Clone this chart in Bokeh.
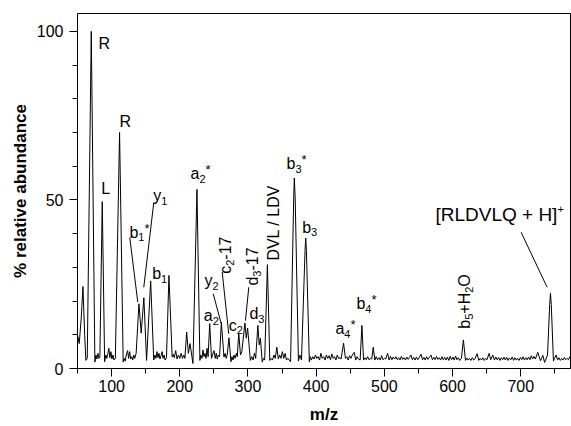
import math
from bokeh.plotting import figure
from bokeh.models import Range1d, FixedTicker, Label
from bokeh.embed import file_html
from bokeh.resources import INLINE

# ---- spectrum trace (m/z, % relative abundance) ----
mz = [
    50.0, 52.5, 55.5, 58.0, 60.5, 62.3, 64.3, 70.2, 75.5, 77.0, 78.5, 80.0, 81.5, 82.8,
    86.3, 89.8, 91.5, 93.0, 94.5, 96.0, 97.5, 99.0, 100.5, 102.0, 103.5, 105.5, 111.7,
    117.0, 118.5, 120.0, 121.5, 123.5, 125.0, 126.5, 128.0, 129.5, 131.0, 132.5, 134.0,
    136.0, 140.1, 143.4, 147.3, 151.3, 157.3, 161.8, 163.5, 165.0, 166.5, 168.0, 169.5,
    171.0, 172.5, 174.0, 175.5, 177.0, 178.5, 180.5, 184.1, 188.8, 190.5, 192.0, 194.0,
    196.0, 198.0, 200.0, 202.0, 204.0, 206.0, 207.5, 210.1, 212.6, 215.0, 219.3, 225.2,
    229.5, 231.0, 232.5, 234.0, 235.5, 237.0, 238.5, 240.0, 241.5, 243.9, 246.5, 248.0,
    250.2, 252.0, 253.5, 255.0, 256.5, 258.3, 261.0, 264.8, 266.5, 268.0, 269.5, 272.1,
    275.0, 276.5, 278.0, 279.5, 281.0, 283.0, 284.3, 286.5, 289.0, 291.0, 295.5, 297.5,
    299.5, 303.5, 305.5, 307.5, 309.5, 311.3, 314.5, 316.5, 318.2, 321.0, 322.5, 324.5,
    328.5, 332.0, 334.0, 336.0, 338.0, 340.0, 342.3, 344.5, 346.5, 348.5, 350.5, 352.5,
    354.5, 356.5, 358.5, 362.5, 367.0, 368.0, 369.3, 374.0, 376.0, 378.5, 383.7, 384.7,
    385.7, 390.0, 391.5, 393.0, 395.0, 397.0, 399.0, 401.0, 403.0, 405.0, 407.0, 409.0,
    411.0, 413.0, 415.0, 417.0, 419.0, 421.0, 423.0, 425.0, 427.0, 429.0, 431.0, 433.0,
    435.0, 436.5, 440.2, 443.0, 445.0, 447.0, 449.0, 451.0, 453.0, 455.8, 458.0, 460.0,
    462.0, 464.5, 467.1, 469.5, 471.5, 473.5, 475.5, 477.5, 480.0, 481.5, 483.7, 486.0,
    488.0, 490.0, 492.0, 494.0, 496.0, 498.0, 500.0, 502.0, 504.8, 507.0, 509.0, 511.0,
    513.0, 515.0, 517.0, 519.0, 521.0, 523.0, 525.0, 527.0, 529.0, 531.0, 533.0, 535.0,
    537.0, 539.0, 541.0, 543.0, 545.0, 547.0, 549.0, 551.0, 553.8, 556.0, 558.0, 560.0,
    562.0, 564.0, 566.0, 568.4, 570.5, 572.5, 574.5, 576.5, 578.5, 580.5, 582.5, 584.5,
    586.5, 588.5, 590.5, 592.5, 594.5, 596.5, 598.5, 600.5, 602.5, 604.5, 606.5, 608.5,
    610.5, 613.0, 615.9, 619.0, 621.0, 623.0, 625.0, 627.0, 629.0, 631.0, 633.0, 636.0,
    638.5, 640.5, 642.5, 644.5, 646.5, 648.5, 650.5, 653.6, 656.0, 659.0, 661.5, 663.5,
    665.5, 667.5, 669.5, 671.5, 673.5, 675.5, 677.5, 679.5, 681.5, 683.5, 685.5, 687.5,
    689.5, 691.5, 693.5, 695.5, 697.5, 699.5, 701.5, 703.5, 705.5, 707.5, 709.5, 711.5,
    713.5, 715.5, 717.5, 719.5, 721.5, 725.0, 729.0, 732.4, 735.0, 739.3, 742.5, 743.6,
    744.8, 748.0, 749.5, 752.0, 754.0, 756.0, 758.0, 760.0, 762.0, 764.0, 766.0, 768.0,
    770.0, 772.0, 773.0,
]
abundance = [
    10.0, 7.4, 15.0, 24.3, 10.0, 2.4, 3.0, 100.0, 1.9, 4.0, 2.8, 4.5, 3.0, 3.5,
    49.5, 2.0, 4.0, 3.0, 4.5, 6.0, 3.2, 5.0, 2.8, 4.0, 2.5, 3.0, 70.0,
    1.9, 3.0, 2.2, 4.0, 5.3, 3.0, 5.0, 2.8, 3.5, 2.5, 4.0, 3.0,
    4.5, 19.2, 10.5, 21.0, 2.4, 26.0, 2.5, 4.0, 3.0, 5.0, 3.2, 4.5,
    2.8, 3.8, 5.0, 3.0, 4.0, 2.5, 3.2, 27.6, 3.4, 4.2, 3.2, 5.3,
    2.8, 4.0, 3.0, 4.5, 3.0, 4.0, 3.0, 10.8, 4.5, 7.4, 1.5, 53.1,
    2.4, 4.0, 3.0, 5.5, 3.5, 4.5, 3.0, 6.0, 3.5, 13.3, 3.0, 4.0,
    5.3, 3.0, 4.5, 2.8, 4.0, 3.5, 13.7, 3.4, 4.5, 3.0, 4.0, 9.1,
    2.0, 3.5, 2.5, 4.0, 3.0, 4.5, 3.5, 10.5, 4.0, 5.0, 13.5, 9.0,
    12.0, 2.4, 3.5, 2.5, 4.5, 3.0, 12.8, 7.0, 9.0, 1.9, 3.0, 2.5,
    30.8, 2.4, 3.0, 2.5, 4.0, 3.0, 6.3, 2.8, 4.0, 3.0, 5.0, 3.0,
    4.5, 2.5, 3.0, 2.0, 50.0, 56.5, 50.0, 2.2, 4.0, 2.5, 35.0, 38.7,
    35.0, 2.0, 3.5, 2.5, 3.5, 2.8, 4.0, 3.0, 3.5, 2.5, 4.5, 3.0,
    3.5, 2.5, 4.0, 3.0, 3.8, 2.6, 4.3, 3.0, 3.5, 2.5, 4.0, 3.0,
    3.2, 2.8, 7.5, 3.0, 3.5, 2.5, 3.8, 3.0, 4.0, 4.8, 2.5, 3.5,
    2.8, 2.5, 12.8, 2.5, 3.2, 2.6, 3.5, 2.6, 3.0, 2.8, 6.3, 2.5,
    3.5, 2.6, 3.2, 2.5, 3.8, 2.6, 3.0, 2.8, 4.5, 2.5, 3.6, 2.6,
    3.4, 2.8, 3.5, 2.6, 3.2, 2.5, 3.6, 2.7, 3.2, 2.5, 3.4, 2.7,
    3.3, 4.0, 2.6, 3.3, 2.5, 3.4, 2.6, 3.2, 4.2, 2.6, 3.3, 2.5,
    3.5, 2.7, 3.3, 4.0, 2.6, 3.3, 2.6, 3.6, 2.7, 3.2, 2.5, 3.5,
    2.6, 3.3, 2.5, 3.4, 2.4, 3.6, 2.6, 3.4, 2.5, 3.7, 2.6, 3.2,
    2.4, 3.0, 8.5, 2.4, 3.1, 2.5, 3.0, 2.4, 3.2, 2.5, 2.9, 4.4,
    2.4, 3.0, 2.5, 3.2, 2.4, 3.0, 2.6, 4.5, 2.6, 4.0, 2.5, 3.4,
    2.6, 3.3, 2.4, 3.2, 2.6, 3.4, 2.5, 3.3, 2.4, 3.1, 2.6, 3.4,
    2.4, 3.2, 2.5, 3.0, 2.4, 3.3, 2.6, 3.5, 2.5, 3.2, 2.6, 3.4,
    2.6, 3.8, 2.8, 3.6, 2.8, 4.8, 2.3, 3.9, 1.8, 4.0, 19.0, 22.3,
    19.0, 2.2, 3.0, 4.0, 2.5, 3.2, 2.4, 3.0, 2.5, 3.3, 2.6, 3.0,
    2.6, 3.5, 3.0,
]

x_major_ticks = [100, 200, 300, 400, 500, 600, 700]
x_minor_ticks = [50, 150, 250, 350, 450, 550, 650, 750]
y_major_ticks = [0, 50, 100]
y_minor_ticks = [10, 20, 30, 40, 60, 70, 80, 90]

# ---- peak annotations: anchor (m/z, abundance), angle in degrees, text runs ----
ann_x = [80.8, 84.8, 111.6, 126.2, 161.0, 159.5, 215.7, 236.2, 235.2, 267.0,
         271.8, 306.6, 302.2, 337.0, 356.5, 379.5, 428.3, 459.1, 617.4, 574.9]
ann_y = [96.4, 53.3, 73.4, 40.4, 51.3, 28.1, 57.8, 26.1, 15.7, 28.1,
         12.8, 24.6, 16.2, 32.0, 60.7, 41.9, 11.8, 19.2, 11.8, 45.7]
ann_angle = [0, 0, 0, 0, 0, 0, 0, 0, 0, 90, 0, 90, 0, 90, 0, 0, 0, 0, 90, 0]
ann_runs = [
    [("R", "n")],
    [("L", "n")],
    [("R", "n")],
    [("b", "n"), ("1", "sub"), ("*", "sup")],
    [("y", "n"), ("1", "sub")],
    [("b", "n"), ("1", "sub")],
    [("a", "n"), ("2", "sub"), ("*", "sup")],
    [("y", "n"), ("2", "sub")],
    [("a", "n"), ("2", "sub")],
    [("c", "n"), ("2", "sub"), ("-17", "n")],
    [("c", "n"), ("2", "sub")],
    [("d", "n"), ("3", "sub"), ("-17", "n")],
    [("d", "n"), ("3", "sub")],
    [("DVL / LDV", "n")],
    [("b", "n"), ("3", "sub"), ("*", "sup")],
    [("b", "n"), ("3", "sub")],
    [("a", "n"), ("4", "sub"), ("*", "sup")],
    [("b", "n"), ("4", "sub"), ("*", "sup")],
    [("b", "n"), ("5", "sub"), ("+H", "n"), ("2", "sub"), ("O", "n")],
    [("[RLDVLQ + H]", "big"), ("+", "bigsup")],
]

# leader lines (m/z, abundance)
lead_x0 = [126.7, 161.9, 249.0, 262.2, 301.2, 700.6]
lead_y0 = [38.8, 49.3, 22.2, 28.6, 24.1, 40.4]
lead_x1 = [138.4, 147.2, 260.7, 271.8, 296.3, 738.7]
lead_y1 = [19.7, 24.1, 13.3, 10.3, 14.2, 24.1]

FONT = "Liberation Sans"
STYLES = {"n": (16, 0), "sub": (11, -5), "sup": (13, 4), "big": (19, 0), "bigsup": (11, 5)}
W = {" ": 278, "[": 278, "]": 278, "+": 584, "-": 333, "/": 278, "*": 389,
     "A": 667, "B": 667, "C": 722, "D": 722, "E": 667, "H": 722, "L": 556,
     "O": 778, "Q": 778, "R": 722, "V": 667, "a": 556, "b": 556, "c": 500,
     "d": 556, "y": 500}


def text_width(s, size):
    return sum(W.get(ch, 556) for ch in s) * size / 1000.0


p = figure(width=571, height=426,
           x_range=Range1d(50, 773), y_range=Range1d(0, 105.3),
           output_backend="svg", toolbar_location=None,
           min_border_left=77, min_border_right=1,
           min_border_top=13, min_border_bottom=58)

p.background_fill_color = "white"
p.border_fill_color = "white"
p.outline_line_color = "black"
p.outline_line_width = 1
p.xgrid.visible = False
p.ygrid.visible = False

p.line(mz, abundance, line_color="black", line_width=1, line_join="round")
p.segment(x0=lead_x0, y0=lead_y0, x1=lead_x1, y1=lead_y1,
          line_color="black", line_width=1)

for i in range(len(ann_x)):
    ang = math.radians(ann_angle[i])
    adv = 0.0
    for txt, kind in ann_runs[i]:
        size, dy = STYLES[kind]
        if ann_angle[i] == 0:
            xo, yo = adv, dy
        else:
            xo, yo = -dy, adv
        p.add_layout(Label(x=ann_x[i], y=ann_y[i], x_offset=xo, y_offset=yo,
                           text=txt, angle=ang, angle_units="rad",
                           text_font=FONT, text_font_size=f"{size}px",
                           text_color="black", text_align="left",
                           text_baseline="alphabetic"))
        adv += text_width(txt, size)

xa = p.xaxis[0]
xa.ticker = FixedTicker(ticks=x_major_ticks, minor_ticks=x_minor_ticks)
xa.axis_label = "m/z"
ya = p.yaxis[0]
ya.ticker = FixedTicker(ticks=y_major_ticks, minor_ticks=y_minor_ticks)
ya.axis_label = "% relative abundance"

for ax in (xa, ya):
    ax.axis_line_color = "black"
    ax.major_tick_line_color = "black"
    ax.minor_tick_line_color = "black"
    ax.major_tick_in = 0
    ax.minor_tick_in = 0
    ax.major_tick_out = 8
    ax.minor_tick_out = 5
    ax.major_label_text_font = FONT
    ax.major_label_text_font_size = "16px"
    ax.major_label_text_color = "black"
    ax.axis_label_text_font = FONT
    ax.axis_label_text_font_size = "17px"
    ax.axis_label_text_font_style = "bold"
    ax.axis_label_text_color = "black"

xa.major_label_standoff = 3
xa.axis_label_standoff = 10
ya.major_label_standoff = 6
ya.axis_label_standoff = 4

open("out.html", "w").write(file_html(p, INLINE))
